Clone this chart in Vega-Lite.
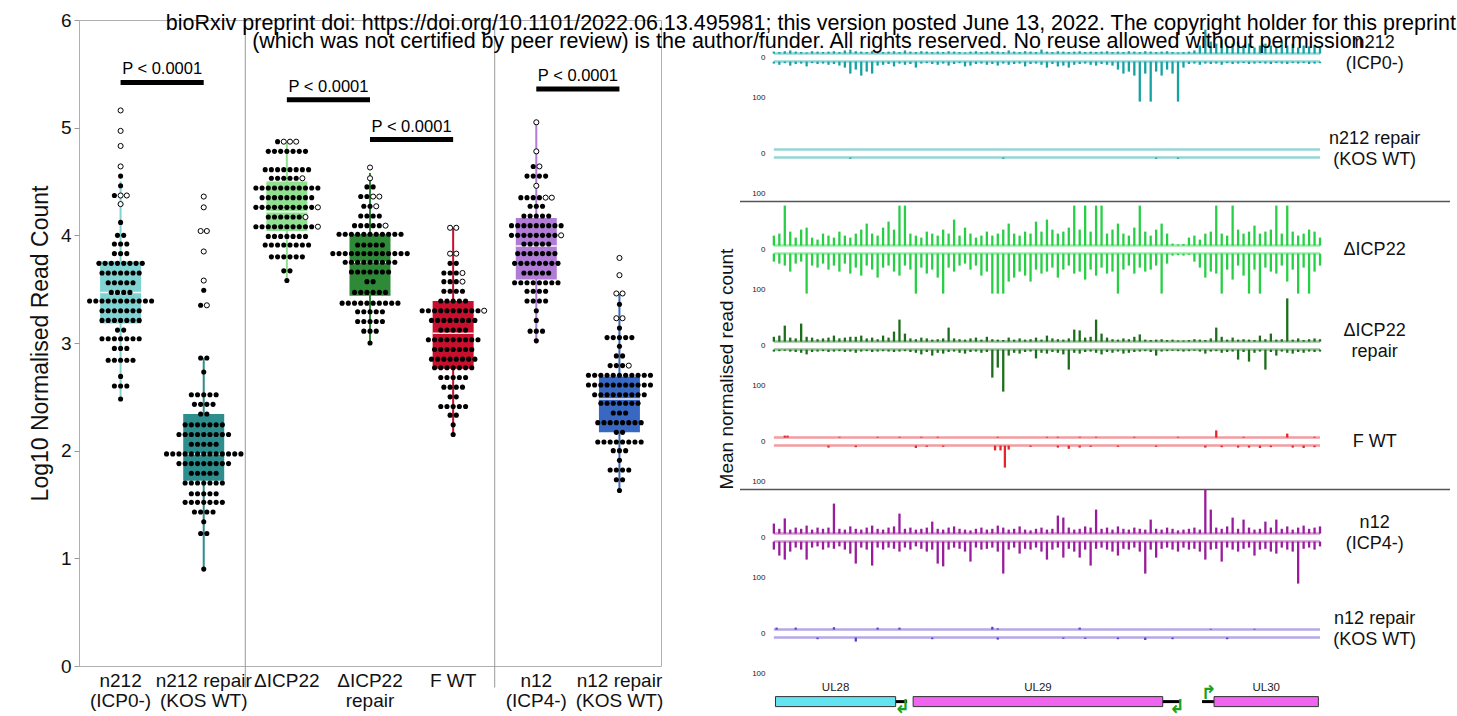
{
  "$schema": "https://vega.github.io/schema/vega-lite/v6.json",
  "config": {
    "font": "Liberation Sans",
    "view": {"stroke": null},
    "axis": {"grid": false, "labelColor": "#111", "titleColor": "#111", "titleFontWeight": "normal", "domainColor": "#999", "tickColor": "#999"},
    "header": {"titleFontWeight": "normal"}
  },
  "padding": {"left": 28, "top": 10, "right": 0, "bottom": 0},
  "title": {
    "text": "bioRxiv preprint doi: https://doi.org/10.1101/2022.06.13.495981; this version posted June 13, 2022. The copyright holder for this preprint",
    "subtitle": "(which was not certified by peer review) is the author/funder. All rights reserved. No reuse allowed without permission.",
    "fontSize": 21.5, "subtitleFontSize": 21.5, "fontWeight": "normal",
    "color": "#000", "subtitleColor": "#000",
    "anchor": "middle", "dx": 71, "offset": -42, "subtitlePadding": -3
  },
  "spacing": 53,
  "resolve": {"scale": {"color": "independent"}},
  "datasets": {
    "dots": [
      {"g": "n212 (ICP0-)", "k": "filled", "y": [4.55,4.46,4.37,4.12,4.0,4.0,3.92,3.92,3.92,3.83,3.83,3.83,3.74,3.74,3.74,3.74,3.74,3.74,3.74,3.74,3.65,3.65,3.65,3.65,3.65,3.65,3.65,3.56,3.56,3.56,3.56,3.56,3.47,3.47,3.47,3.47,3.39,3.39,3.39,3.39,3.39,3.39,3.39,3.39,3.39,3.39,3.39,3.3,3.3,3.3,3.3,3.3,3.3,3.3,3.21,3.21,3.21,3.21,3.21,3.21,3.21,3.12,3.12,3.04,3.04,3.04,3.04,3.04,3.04,3.04,2.95,2.95,2.95,2.84,2.84,2.84,2.84,2.84,2.69,2.6,2.6,2.6,2.48]},
      {"g": "n212 (ICP0-)", "k": "open", "y": [5.16,4.97,4.83,4.64,4.37,4.37,4.29]},
      {"g": "n212 repair (KOS WT)", "k": "filled", "y": [3.49,3.35,2.86,2.86,2.73,2.52,2.52,2.52,2.52,2.52,2.43,2.43,2.43,2.43,2.34,2.34,2.24,2.24,2.24,2.24,2.24,2.24,2.24,2.15,2.15,2.15,2.15,2.15,2.15,2.15,2.15,2.15,2.06,2.06,2.06,2.06,2.06,1.97,1.97,1.97,1.97,1.97,1.97,1.97,1.97,1.97,1.97,1.97,1.97,1.97,1.88,1.88,1.88,1.88,1.88,1.88,1.88,1.88,1.88,1.79,1.79,1.79,1.79,1.79,1.7,1.7,1.7,1.7,1.7,1.7,1.7,1.6,1.6,1.6,1.6,1.6,1.52,1.52,1.52,1.52,1.52,1.52,1.52,1.43,1.43,1.43,1.43,1.34,1.23,1.23,0.9]},
      {"g": "n212 repair (KOS WT)", "k": "open", "y": [4.36,4.26,4.04,4.04,3.85,3.58,3.35]},
      {"g": "ΔICP22", "k": "filled", "y": [4.87,4.78,4.78,4.78,4.78,4.78,4.78,4.78,4.61,4.61,4.61,4.61,4.61,4.61,4.61,4.61,4.53,4.53,4.53,4.53,4.53,4.44,4.44,4.44,4.44,4.44,4.44,4.44,4.44,4.44,4.44,4.44,4.35,4.35,4.35,4.35,4.35,4.35,4.35,4.35,4.35,4.26,4.26,4.26,4.26,4.26,4.26,4.26,4.26,4.26,4.26,4.17,4.17,4.17,4.17,4.17,4.17,4.08,4.08,4.08,4.08,4.08,4.08,4.08,4.08,4.08,4.08,3.99,3.99,3.99,3.99,3.99,3.99,3.99,3.91,3.91,3.91,3.91,3.91,3.91,3.91,3.91,3.8,3.8,3.8,3.8,3.8,3.8,3.67,3.67,3.58]},
      {"g": "ΔICP22", "k": "open", "y": [4.87,4.87,4.87,4.53,4.26,4.17,4.08]},
      {"g": "ΔICP22 repair", "k": "filled", "y": [4.45,4.45,4.36,4.36,4.27,4.27,4.18,4.18,4.18,4.18,4.09,4.09,4.09,4.09,4.09,4.01,4.01,4.01,4.01,4.01,4.01,4.01,4.01,4.01,4.01,4.01,3.91,3.91,3.91,3.91,3.91,3.83,3.83,3.83,3.83,3.83,3.83,3.83,3.83,3.83,3.83,3.83,3.83,3.83,3.75,3.75,3.75,3.75,3.75,3.75,3.75,3.75,3.75,3.66,3.66,3.66,3.66,3.66,3.66,3.66,3.57,3.57,3.47,3.47,3.47,3.47,3.47,3.47,3.37,3.37,3.37,3.37,3.37,3.37,3.37,3.37,3.37,3.37,3.29,3.29,3.29,3.29,3.29,3.2,3.2,3.2,3.2,3.2,3.11,3.11,3.11,3.0]},
      {"g": "ΔICP22 repair", "k": "open", "y": [4.63,4.53,4.36,4.36,4.27,4.09]},
      {"g": "F WT", "k": "filled", "y": [3.74,3.74,3.65,3.65,3.65,3.57,3.57,3.57,3.48,3.48,3.48,3.48,3.39,3.39,3.39,3.39,3.39,3.3,3.3,3.3,3.3,3.3,3.3,3.3,3.3,3.3,3.3,3.21,3.21,3.21,3.21,3.21,3.21,3.21,3.21,3.12,3.12,3.12,3.12,3.12,3.03,3.03,3.03,3.03,3.03,3.03,3.03,3.03,3.03,2.94,2.94,2.94,2.94,2.94,2.94,2.94,2.85,2.85,2.85,2.85,2.85,2.85,2.85,2.85,2.77,2.77,2.77,2.77,2.77,2.77,2.77,2.68,2.68,2.68,2.68,2.68,2.59,2.59,2.59,2.59,2.5,2.5,2.41,2.41,2.41,2.41,2.41,2.33,2.33,2.24,2.15]},
      {"g": "F WT", "k": "open", "y": [4.07,4.07,3.83,3.83,3.65,3.57,3.3]},
      {"g": "n12 (ICP4-)", "k": "filled", "y": [4.64,4.55,4.55,4.55,4.55,4.35,4.35,4.35,4.35,4.27,4.27,4.27,4.18,4.18,4.18,4.18,4.18,4.09,4.09,4.09,4.09,4.09,4.09,4.09,4.09,4.09,4.0,4.0,4.0,4.0,4.0,4.0,4.0,4.0,3.92,3.92,3.92,3.92,3.92,3.83,3.83,3.83,3.83,3.83,3.83,3.83,3.74,3.74,3.74,3.74,3.74,3.74,3.74,3.74,3.65,3.65,3.65,3.65,3.65,3.56,3.56,3.56,3.56,3.56,3.56,3.56,3.56,3.48,3.48,3.48,3.48,3.39,3.39,3.39,3.39,3.3,3.21,3.11,3.11,3.11,3.02]},
      {"g": "n12 (ICP4-)", "k": "open", "y": [5.05,4.78,4.64,4.46,4.35,4.35,4.0]},
      {"g": "n12 repair (KOS WT)", "k": "filled", "y": [3.36,3.14,3.05,3.05,3.05,3.05,3.05,2.97,2.88,2.88,2.79,2.79,2.79,2.7,2.7,2.7,2.7,2.7,2.7,2.7,2.7,2.7,2.7,2.7,2.61,2.61,2.61,2.61,2.61,2.61,2.61,2.61,2.61,2.61,2.61,2.52,2.52,2.52,2.52,2.52,2.52,2.52,2.52,2.52,2.44,2.44,2.44,2.44,2.44,2.44,2.44,2.35,2.35,2.35,2.26,2.26,2.26,2.26,2.26,2.26,2.26,2.26,2.17,2.17,2.08,2.08,2.08,2.08,2.08,2.08,2.08,2.08,2.0,2.0,2.0,1.91,1.82,1.82,1.82,1.82,1.73,1.73,1.63]},
      {"g": "n12 repair (KOS WT)", "k": "open", "y": [3.79,3.63,3.46,3.46,3.23,3.23,2.79]}
    ],
    "boxes": [
      {"g": "n212 (ICP0-)", "q1": 3.18, "med": 3.47, "q3": 3.76, "lo": 2.48, "hi": 4.5},
      {"g": "n212 repair (KOS WT)", "q1": 1.72, "med": 1.97, "q3": 2.34, "lo": 0.9, "hi": 2.86},
      {"g": "ΔICP22", "q1": 4.04, "med": 4.22, "q3": 4.5, "lo": 3.58, "hi": 4.87},
      {"g": "ΔICP22 repair", "q1": 3.44, "med": 3.75, "q3": 4.01, "lo": 3.0, "hi": 4.58},
      {"g": "F WT", "q1": 2.76, "med": 3.09, "q3": 3.39, "lo": 2.15, "hi": 4.07},
      {"g": "n12 (ICP4-)", "q1": 3.59, "med": 3.9, "q3": 4.16, "lo": 3.02, "hi": 5.05},
      {"g": "n12 repair (KOS WT)", "q1": 2.17, "med": 2.48, "q3": 2.69, "lo": 1.63, "hi": 3.46}
    ],
    "pvals": [
      {"a": "n212 (ICP0-)", "b": "n212 repair (KOS WT)", "y": 5.42, "p": "P < 0.0001"},
      {"a": "ΔICP22", "b": "ΔICP22 repair", "y": 5.26, "p": "P < 0.0001"},
      {"a": "ΔICP22 repair", "b": "F WT", "y": 4.89, "p": "P < 0.0001"},
      {"a": "n12 (ICP4-)", "b": "n12 repair (KOS WT)", "y": 5.36, "p": "P < 0.0001"}
    ],
    "seps": [{"g": "n212 repair (KOS WT)"}, {"g": "F WT"}],
    "tracks": [
      {"t": "n212 (ICP0-)", "x": [0,1,2,3,4,5,6,7,8,9,10,11,12,13,14,15,16,17,18,19,20,21,22,23,24,25,26,27,28,29,30,31,32,33,34,35,36,37,38,39,40,41,42,43,44,45,46,47,48,49,50,51,52,53,54,55,56,57,58,59,60,61,62,63,64,65,66,67,68,69,70,71,72,73,74,75,76,77,78,79,80,81,82,83,84,85,86,87,88,89,90,91,92,93,94,95,96,97,98,99,100],
        "v": [5,4,6,8,5,4,3,6,5,4,5,6,4,8,10,6,5,4,6,5,4,5,6,4,8,5,4,6,5,4,5,4,6,5,4,3,5,6,4,5,6,5,4,8,5,4,6,5,4,10,5,4,6,5,4,5,6,4,5,4,5,6,4,5,4,6,5,4,6,5,4,5,6,4,3,4,5,8,20,60,30,25,35,20,25,30,20,25,15,20,25,20,15,30,20,25,15,20,18,22,15]},
      {"t": "n212 (ICP0-)", "x": [0,1,2,3,4,5,6,7,8,9,10,11,12,13,14,15,16,17,18,19,20,21,22,23,24,25,26,27,28,29,30,31,32,33,34,35,36,37,38,39,40,41,42,43,44,45,46,47,48,49,50,51,52,53,54,55,56,57,58,59,60,61,62,63,64,65,66,67,68,69,70,71,72,73,74,75,76,77,78,79,80,81,82,83,84,85,86,87,88,89,90,91,92,93,94,95,96,97,98,99,100],
        "v": [-5,-8,-4,-10,-6,-5,-12,-4,-6,-5,-8,-6,-10,-15,-30,-20,-35,-25,-30,-10,-8,-6,-12,-5,-8,-6,-15,-5,-4,-6,-8,-5,-10,-6,-4,-12,-10,-6,-5,-8,-6,-10,-5,-8,-6,-5,-12,-6,-5,-8,-15,-6,-12,-10,-15,-8,-6,-5,-8,-10,-6,-8,-10,-20,-30,-25,-35,-100,-30,-100,-25,-35,-20,-30,-100,-15,-6,-5,-8,-5,-6,-5,-8,-4,-6,-5,-4,-6,-5,-4,-5,-6,-4,-5,-6,-4,-5,-4,-6,-5,-4]},
      {"t": "n212 repair (KOS WT)", "x": [14,42,70,74], "v": [-3,-3,-3,-3]},
      {"t": "ΔICP22", "x": [0,1,2,3,4,5,6,7,8,9,10,11,12,13,14,15,16,17,18,19,20,21,22,23,24,25,26,27,28,29,30,31,32,33,34,35,36,37,38,39,40,41,42,43,44,45,46,47,48,49,50,51,52,53,54,55,56,57,58,59,60,61,62,63,64,65,66,67,68,69,70,71,72,73,74,75,76,77,78,79,80,81,82,83,84,85,86,87,88,89,90,91,92,93,94,95,96,97,98,99,100],
        "v": [25,30,100,35,20,40,45,20,15,30,25,20,35,25,20,30,40,55,30,25,45,60,40,100,100,30,25,20,35,30,25,40,30,65,25,45,30,20,25,35,25,30,40,55,30,25,35,30,60,35,65,40,30,35,45,100,40,100,35,100,100,30,40,55,30,25,45,100,35,25,40,55,30,5,3,4,20,25,15,30,35,100,30,25,100,40,30,35,50,30,35,40,100,30,100,35,25,30,40,35,20]},
      {"t": "ΔICP22", "x": [0,1,2,3,4,5,6,7,8,9,10,11,12,13,14,15,16,17,18,19,20,21,22,23,24,25,26,27,28,29,30,31,32,33,34,35,36,37,38,39,40,41,42,43,44,45,46,47,48,49,50,51,52,53,54,55,56,57,58,59,60,61,62,63,64,65,66,67,68,69,70,71,72,73,74,75,76,77,78,79,80,81,82,83,84,85,86,87,88,89,90,91,92,93,94,95,96,97,98,99,100],
        "v": [-20,-25,-30,-45,-25,-20,-100,-30,-35,-25,-40,-30,-45,-25,-50,-35,-55,-30,-40,-60,-35,-30,-45,-55,-30,-40,-100,-35,-50,-40,-60,-100,-35,-45,-30,-25,-40,-30,-55,-45,-100,-100,-100,-70,-60,-45,-55,-70,-40,-50,-45,-35,-60,-40,-30,-50,-45,-65,-40,-55,-35,-50,-45,-100,-40,-30,-50,-35,-45,-40,-30,-100,-25,-5,-4,-5,-3,-20,-35,-60,-45,-50,-100,-40,-65,-30,-55,-100,-40,-100,-35,-45,-50,-30,-70,-40,-100,-35,-100,-45,-30]},
      {"t": "ΔICP22 repair", "x": [0,1,2,3,4,5,6,7,8,9,10,11,12,13,14,15,16,17,18,19,20,21,22,23,24,25,26,27,28,29,30,31,32,33,34,35,36,37,38,39,40,41,42,43,44,45,46,47,48,49,50,51,52,53,54,55,56,57,58,59,60,61,62,63,64,65,66,67,68,69,70,71,72,73,74,75,76,77,78,79,80,81,82,83,84,85,86,87,88,89,90,91,92,93,94,95,96,97,98,99,100],
        "v": [12,15,40,10,8,45,12,10,6,8,10,15,8,10,12,12,15,8,10,6,15,10,25,55,20,8,6,10,8,5,6,8,35,8,6,5,8,10,5,12,6,5,4,10,5,8,5,6,10,5,15,8,6,5,8,30,28,10,12,55,20,10,6,5,8,6,12,18,5,4,5,6,4,5,3,3,4,6,5,4,8,35,12,5,10,5,6,5,4,15,6,20,5,6,108,5,8,4,6,8,6]},
      {"t": "ΔICP22 repair", "x": [0,1,2,3,4,5,6,7,8,9,10,11,12,13,14,15,16,17,18,19,20,21,22,23,24,25,26,27,28,29,30,31,32,33,34,35,36,37,38,39,40,41,42,43,44,45,46,47,48,49,50,51,52,53,54,55,56,57,58,59,60,61,62,63,64,65,66,67,68,69,70,71,72,73,74,75,76,77,78,79,80,81,82,83,84,85,86,87,88,89,90,91,92,93,94,95,96,97,98,99,100],
        "v": [-5,-4,-3,-5,-6,-8,-12,-6,-5,-4,-6,-5,-4,-6,-5,-8,-5,-4,-6,-5,-4,-5,-6,-5,-4,-6,-8,-12,-6,-15,-8,-10,-6,-5,-8,-10,-6,-5,-8,-6,-70,-45,-105,-15,-8,-10,-6,-5,-22,-8,-10,-6,-8,-12,-50,-8,-10,-6,-5,-8,-12,-6,-8,-5,-10,-8,-6,-5,-4,-6,-15,-5,-4,-3,-4,-5,-4,-3,-5,-10,-5,-4,-8,-6,-5,-25,-6,-30,-8,-5,-50,-6,-15,-5,-8,-10,-6,-8,-5,-6,-5]},
      {"t": "F WT", "x": [2,2.5,12,19,23,27,30,41,50,52,56,59,66,74,81,86,94,99], "v": [5,5,2,2,2,2,2,2,2,2,2,2,2,2,18,2,10,2]},
      {"t": "F WT", "x": [10,15,26,28,31,40.5,41.5,42.3,43,47,52,54,56,58,63,70,79,82,85,87,89,91,95,97,99], "v": [-5,-4,-6,-3,-3,-12,-12,-55,-10,-3,-5,-8,-5,-3,-3,-3,-5,-4,-5,-5,-6,-4,-5,-6,-4]},
      {"t": "n12 (ICP4-)", "x": [0,1,2,3,4,5,6,7,8,9,10,11,12,13,14,15,16,17,18,19,20,21,22,23,24,25,26,27,28,29,30,31,32,33,34,35,36,37,38,39,40,41,42,43,44,45,46,47,48,49,50,51,52,53,54,55,56,57,58,59,60,61,62,63,64,65,66,67,68,69,70,71,72,73,74,75,76,77,78,79,80,81,82,83,84,85,86,87,88,89,90,91,92,93,94,95,96,97,98,99,100],
        "v": [25,12,38,10,15,12,20,10,15,12,15,75,12,10,18,12,10,15,20,12,10,15,18,50,12,15,10,12,15,30,12,10,15,18,12,10,8,12,15,10,12,20,15,10,12,18,10,8,12,15,10,12,45,40,15,10,12,18,15,60,12,15,10,18,12,10,15,12,10,35,12,10,15,12,8,10,12,15,10,110,60,15,12,18,40,12,35,15,10,12,30,15,35,12,18,10,15,20,12,15,18]},
      {"t": "n12 (ICP4-)", "x": [0,1,2,3,4,5,6,7,8,9,10,11,12,13,14,15,16,17,18,19,20,21,22,23,24,25,26,27,28,29,30,31,32,33,34,35,36,37,38,39,40,41,42,43,44,45,46,47,48,49,50,51,52,53,54,55,56,57,58,59,60,61,62,63,64,65,66,67,68,69,70,71,72,73,74,75,76,77,78,79,80,81,82,83,84,85,86,87,88,89,90,91,92,93,94,95,96,97,98,99,100],
        "v": [-20,-35,-45,-25,-15,-20,-45,-15,-12,-20,-15,-18,-12,-20,-30,-55,-15,-20,-60,-15,-20,-15,-18,-25,-15,-20,-12,-18,-25,-20,-55,-62,-20,-15,-18,-25,-50,-15,-20,-18,-15,-25,-80,-20,-15,-30,-18,-20,-15,-25,-45,-20,-15,-40,-18,-25,-40,-20,-60,-18,-15,-20,-25,-35,-18,-20,-15,-25,-80,-20,-40,-18,-15,-20,-25,-15,-20,-18,-25,-45,-20,-18,-50,-15,-20,-25,-18,-15,-35,-20,-18,-25,-30,-15,-20,-25,-105,-18,-15,-20,-12]},
      {"t": "n12 repair (KOS WT)", "x": [0.5,4,11,19,23,40,41,56,80,88], "v": [5,5,6,5,5,7,3,5,2,2]},
      {"t": "n12 repair (KOS WT)", "x": [8,15,29,41,53,57,63,68,73,83], "v": [-4,-10,-4,-5,-3,-3,-4,-6,-4,-4]},
      {"t": "n12 repair (KOS WT)", "gene": "UL28", "s": 0.3, "e": 22.3},
      {"t": "n12 repair (KOS WT)", "gene": "UL29", "s": 25.5, "e": 71.2},
      {"t": "n12 repair (KOS WT)", "gene": "UL30", "s": 80.6, "e": 99.7},
      {"t": "n12 repair (KOS WT)", "la": 22.3, "lb": 24.4},
      {"t": "n12 repair (KOS WT)", "la": 71.2, "lb": 74.5},
      {"t": "n12 repair (KOS WT)", "la": 78.4, "lb": 80.6},
      {"t": "n12 repair (KOS WT)", "p": 23.5, "strand": "-"},
      {"t": "n12 repair (KOS WT)", "p": 73.8, "strand": "-"},
      {"t": "n12 repair (KOS WT)", "p": 79.6, "strand": "+"}
    ]
  },
  "hconcat": [
    {
      "width": 582,
      "height": 646,
      "view": {"stroke": "#b0b0b0"},
      "layer": [
        {
          "data": {"name": "boxes"},
          "mark": {"type": "rule", "strokeWidth": 2},
          "encoding": {
            "x": {"field": "g", "type": "nominal",
              "scale": {"domain": ["n212 (ICP0-)", "n212 repair (KOS WT)", "ΔICP22", "ΔICP22 repair", "F WT", "n12 (ICP4-)", "n12 repair (KOS WT)"], "paddingInner": 0, "paddingOuter": 0},
              "axis": {"title": null, "labelAngle": 0, "labelAlign": "center", "bandPosition": 0.5, "labelFontSize": 19, "labelExpr": "datum.label == 'ΔICP22 repair' ? ['ΔICP22', 'repair'] : split(replace(datum.label, ' (', '|('), '|')", "labelLineHeight": 20, "labelBaseline": "top", "labelPadding": 5, "ticks": false, "domain": false, "labelLimit": 300}},
            "y": {"field": "lo", "type": "quantitative",
              "scale": {"domain": [0, 6], "nice": false},
              "axis": {"title": "Log10 Normalised Read Count", "titleFontSize": 23, "labelFontSize": 19, "values": [0, 1, 2, 3, 4, 5, 6], "format": "d", "tickSize": 5, "labelPadding": 3, "titlePadding": 8, "domain": false}},
            "y2": {"field": "hi"},
            "color": {"field": "g", "type": "nominal", "legend": null,
              "scale": {"domain": ["n212 (ICP0-)", "n212 repair (KOS WT)", "ΔICP22", "ΔICP22 repair", "F WT", "n12 (ICP4-)", "n12 repair (KOS WT)"], "range": ["#7fd3d3", "#2e8d8d", "#8fe08f", "#2f8a38", "#c8102e", "#b07cd6", "#3868c2"]}}
          }
        },
        {
          "data": {"name": "seps"},
          "mark": {"type": "rule", "color": "#999", "strokeWidth": 1},
          "encoding": {
            "x": {"field": "g", "type": "nominal", "bandPosition": 1},
            "y": {"datum": 6, "type": "quantitative"},
            "y2": {"datum": -0.2}
          }
        },
        {
          "data": {"name": "boxes"},
          "mark": {"type": "bar", "width": 41},
          "encoding": {
            "x": {"field": "g", "type": "nominal"},
            "y": {"field": "q1", "type": "quantitative"},
            "y2": {"field": "q3"},
            "color": {"field": "g", "type": "nominal", "legend": null}
          }
        },
        {
          "data": {"name": "boxes"},
          "mark": {"type": "tick", "color": "white", "thickness": 1.5, "size": 41, "opacity": 0.9},
          "encoding": {
            "x": {"field": "g", "type": "nominal"},
            "y": {"field": "med", "type": "quantitative"}
          }
        },
        {
          "data": {"name": "dots"},
          "transform": [
            {"flatten": ["y"]},
            {"window": [{"op": "row_number", "as": "r"}, {"op": "count", "as": "n"}], "groupby": ["g", "y"], "frame": [null, null]},
            {"calculate": "datum.r - (datum.n + 1) / 2", "as": "off"},
            {"filter": "datum.k == 'filled'"}
          ],
          "mark": {"type": "point", "shape": "circle", "filled": true, "color": "black", "size": 26, "opacity": 1},
          "encoding": {
            "x": {"field": "g", "type": "nominal"},
            "xOffset": {"field": "off", "type": "quantitative", "scale": {"domain": [-7, 7], "range": [-1.8, 85], "nice": false, "zero": false}},
            "y": {"field": "y", "type": "quantitative"}
          }
        },
        {
          "data": {"name": "dots"},
          "transform": [
            {"flatten": ["y"]},
            {"window": [{"op": "row_number", "as": "r"}, {"op": "count", "as": "n"}], "groupby": ["g", "y"], "frame": [null, null]},
            {"calculate": "datum.r - (datum.n + 1) / 2", "as": "off"},
            {"filter": "datum.k == 'open'"}
          ],
          "mark": {"type": "point", "shape": "circle", "filled": false, "fill": "white", "stroke": "black", "strokeWidth": 1, "size": 26, "opacity": 1},
          "encoding": {
            "x": {"field": "g", "type": "nominal"},
            "xOffset": {"field": "off", "type": "quantitative"},
            "y": {"field": "y", "type": "quantitative"}
          }
        },
        {
          "data": {"name": "pvals"},
          "mark": {"type": "rule", "strokeWidth": 5, "color": "black"},
          "encoding": {
            "x": {"field": "a", "type": "nominal"},
            "x2": {"field": "b"},
            "y": {"field": "y", "type": "quantitative"}
          }
        },
        {
          "data": {"name": "pvals"},
          "mark": {"type": "text", "fontSize": 16.5, "baseline": "bottom", "dy": -5, "color": "black"},
          "encoding": {
            "x": {"field": "a", "type": "nominal", "bandPosition": 1},
            "y": {"field": "y", "type": "quantitative"},
            "text": {"field": "p"}
          }
        }
      ]
    },
    {
      "data": {"name": "tracks"},
      "facet": {
        "row": {"field": "t", "type": "nominal",
          "sort": ["n212 (ICP0-)", "n212 repair (KOS WT)", "ΔICP22", "ΔICP22 repair", "F WT", "n12 (ICP4-)", "n12 repair (KOS WT)"],
          "header": {"labels": false, "title": "Mean normalised read count", "titleFontSize": 19, "titleFontWeight": "normal", "titlePadding": -7, "titleColor": "#111"}}
      },
      "spacing": {"row": 0},
      "bounds": "flush",
      "spec": {
        "width": 710,
        "height": 96,
        "layer": [
          {
            "transform": [{"aggregate": [{"op": "count", "as": "n"}], "groupby": ["t"]}],
            "mark": {"type": "rule", "strokeWidth": 2.5, "opacity": 0.45, "yOffset": -4},
            "encoding": {
              "x": {"datum": 0, "type": "quantitative", "scale": {"domain": [-6.2, 123.8], "nice": false, "zero": false}, "axis": null},
              "x2": {"datum": 100},
              "y": {"datum": 0, "type": "quantitative"},
              "color": {"field": "t", "type": "nominal", "legend": null,
                "scale": {"domain": ["n212 (ICP0-)", "n212 repair (KOS WT)", "ΔICP22", "ΔICP22 repair", "F WT", "n12 (ICP4-)", "n12 repair (KOS WT)"], "range": ["#17a2a2", "#17a2a2", "#27cf45", "#1c6e1c", "#e3262c", "#9a1c9c", "#5a3fcf"]}}
            }
          },
          {
            "transform": [{"aggregate": [{"op": "count", "as": "n"}], "groupby": ["t"]}],
            "mark": {"type": "rule", "strokeWidth": 2.5, "opacity": 0.45, "yOffset": 4},
            "encoding": {
              "x": {"datum": 0, "type": "quantitative"},
              "x2": {"datum": 100},
              "y": {"datum": 0, "type": "quantitative"},
              "color": {"field": "t", "type": "nominal", "legend": null}
            }
          },
          {
            "transform": [{"filter": "isArray(datum.v)"}, {"flatten": ["x", "v"]}, {"filter": "datum.v > 0"}],
            "mark": {"type": "rule", "strokeWidth": 2.3, "yOffset": -4, "y2Offset": -4},
            "encoding": {
              "x": {"field": "x", "type": "quantitative"},
              "y": {"field": "v", "type": "quantitative",
                "scale": {"domain": [-146, 94], "nice": false, "zero": false},
                "axis": {"title": null, "values": [-100, 0, 100], "labelExpr": "datum.value == 0 ? '0' : '100'", "labelFontSize": 8, "ticks": false, "domain": false, "offset": -27, "labelPadding": 2, "labelColor": "#222"}},
              "y2": {"datum": 0},
              "color": {"field": "t", "type": "nominal", "legend": null}
            }
          },
          {
            "transform": [{"filter": "isArray(datum.v)"}, {"flatten": ["x", "v"]}, {"filter": "datum.v < 0"}],
            "mark": {"type": "rule", "strokeWidth": 2.3, "yOffset": 4, "y2Offset": 4},
            "encoding": {
              "x": {"field": "x", "type": "quantitative"},
              "y": {"field": "v", "type": "quantitative"},
              "y2": {"datum": 0},
              "color": {"field": "t", "type": "nominal", "legend": null}
            }
          },
          {
            "transform": [
              {"aggregate": [{"op": "count", "as": "n"}], "groupby": ["t"]},
              {"filter": "datum.t == 'n212 repair (KOS WT)' || datum.t == 'F WT'"}
            ],
            "mark": {"type": "rule", "color": "#555", "strokeWidth": 1.5},
            "encoding": {
              "y": {"datum": -120, "type": "quantitative"}
            }
          },
          {
            "transform": [
              {"aggregate": [{"op": "count", "as": "n"}], "groupby": ["t"]},
              {"calculate": "datum.t == 'ΔICP22 repair' ? ['ΔICP22', 'repair'] : split(replace(datum.t, ' (', '|('), '|')", "as": "lbl"},
              {"filter": "length(datum.lbl) == 1"}
            ],
            "mark": {"type": "text", "fontSize": 18, "lineHeight": 21, "align": "center", "baseline": "middle", "color": "#111"},
            "encoding": {
              "x": {"datum": 110, "type": "quantitative"},
              "y": {"datum": 0, "type": "quantitative"},
              "text": {"field": "lbl"}
            }
          },
          {
            "transform": [
              {"aggregate": [{"op": "count", "as": "n"}], "groupby": ["t"]},
              {"calculate": "datum.t == 'ΔICP22 repair' ? ['ΔICP22', 'repair'] : split(replace(datum.t, ' (', '|('), '|')", "as": "lbl"},
              {"filter": "length(datum.lbl) > 1"}
            ],
            "mark": {"type": "text", "fontSize": 18, "lineHeight": 21, "align": "center", "baseline": "middle", "color": "#111"},
            "encoding": {
              "x": {"datum": 110, "type": "quantitative"},
              "y": {"datum": 36, "type": "quantitative"},
              "text": {"field": "lbl"}
            }
          },
          {
            "transform": [{"filter": "isValid(datum.la)"}],
            "mark": {"type": "rule", "color": "black", "strokeWidth": 3},
            "encoding": {
              "x": {"field": "la", "type": "quantitative"},
              "x2": {"field": "lb"},
              "y": {"datum": -170, "type": "quantitative"}
            }
          },
          {
            "transform": [{"filter": "isValid(datum.gene)"}],
            "mark": {"type": "rect", "stroke": "#333", "strokeWidth": 1},
            "encoding": {
              "x": {"field": "s", "type": "quantitative"},
              "x2": {"field": "e"},
              "y": {"datum": -157.5, "type": "quantitative"},
              "y2": {"datum": -182.5},
              "color": {"condition": {"test": "datum.gene == 'UL28'", "value": "#62e4f0"}, "value": "#f065f0"}
            }
          },
          {
            "transform": [{"filter": "isValid(datum.gene)"}, {"calculate": "(datum.s + datum.e) / 2", "as": "mid"}],
            "mark": {"type": "text", "fontSize": 11.5, "baseline": "middle", "color": "#222"},
            "encoding": {
              "x": {"field": "mid", "type": "quantitative"},
              "y": {"datum": -135, "type": "quantitative"},
              "text": {"field": "gene"}
            }
          },
          {
            "transform": [{"filter": "datum.strand == '-'"}],
            "mark": {"type": "text", "text": "↲", "font": "DejaVu Sans", "fontSize": 19, "fontWeight": "bold", "color": "#1aa31a", "baseline": "middle"},
            "encoding": {
              "x": {"field": "p", "type": "quantitative"},
              "y": {"datum": -184, "type": "quantitative"}
            }
          },
          {
            "transform": [{"filter": "datum.strand == '+'"}],
            "mark": {"type": "text", "text": "↱", "font": "DejaVu Sans", "fontSize": 19, "fontWeight": "bold", "color": "#1aa31a", "baseline": "middle"},
            "encoding": {
              "x": {"field": "p", "type": "quantitative"},
              "y": {"datum": -148, "type": "quantitative"}
            }
          }
        ]
      }
    }
  ]
}
